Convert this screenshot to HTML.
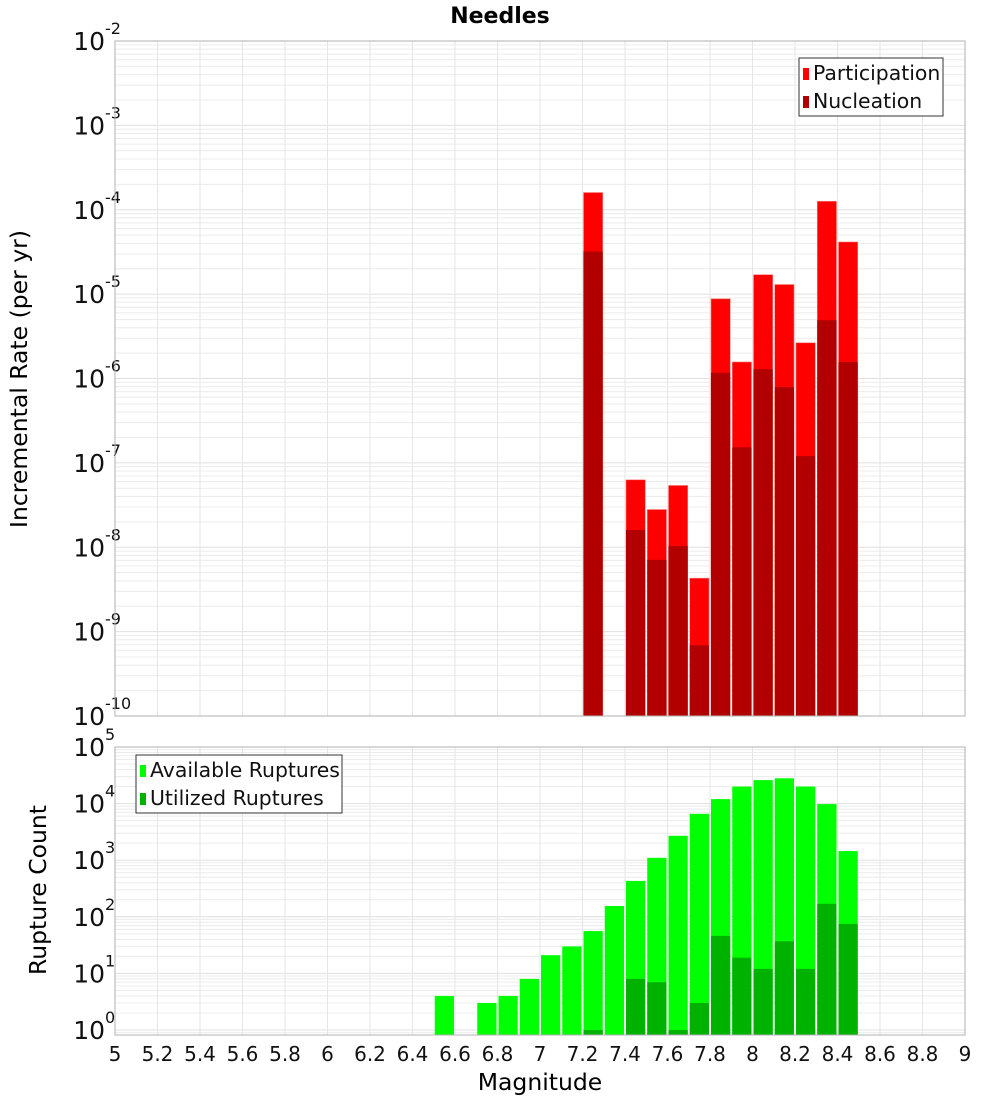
<!DOCTYPE html>
<html><head><meta charset="utf-8"><style>
body{margin:0;background:#fff;}
svg{display:block;font-family:"DejaVu Sans","Liberation Sans",sans-serif;}
</style></head><body>
<svg id="chart" width="1000" height="1100" viewBox="0 0 1000 1100" xmlns="http://www.w3.org/2000/svg">
<text x="500" y="23" text-anchor="middle" font-size="22" font-weight="bold">Needles</text>
<g id="topPanel"></g><g id="botPanel"></g>
<text transform="translate(27,379) rotate(-90)" text-anchor="middle" font-size="23.5">Incremental Rate (per yr)</text>
<text transform="translate(46,890) rotate(-90)" text-anchor="middle" font-size="23.5">Rupture Count</text>
<text x="540" y="1090" text-anchor="middle" font-size="23.5">Magnitude</text>
</svg>
<script>
const mags = [7.2,7.4,7.5,7.6,7.7,7.8,7.9,8.0,8.1,8.2,8.3,8.4];
const participation = [1.6e-4,6.3e-8,2.8e-8,5.4e-8,4.3e-9,8.8e-6,1.57e-6,1.7e-5,1.3e-5,2.65e-6,1.26e-4,4.15e-5];
const nucleation = [3.2e-5,1.6e-8,7.1e-9,1.03e-8,6.9e-10,1.17e-6,1.53e-7,1.29e-6,7.9e-7,1.2e-7,4.9e-6,1.57e-6];
const countMags = [6.5,6.7,6.8,6.9,7.0,7.1,7.2,7.3,7.4,7.5,7.6,7.7,7.8,7.9,8.0,8.1,8.2,8.3,8.4];
const available = [4,3,4,8,21,30,56,155,430,1100,2700,6600,12000,20000,26000,28000,20000,9800,1450];
const utilized = [0,0,0,0,0,0,1,0,8,7,1,3,46,19,12,37,12,170,75];
const xTicks = ["5","5.2","5.4","5.6","5.8","6","6.2","6.4","6.6","6.8","7","7.2","7.4","7.6","7.8","8","8.2","8.4","8.6","8.8","9"];
const topExps = [-10,-9,-8,-7,-6,-5,-4,-3,-2];
const botExps = [0,1,2,3,4,5];

const NS="http://www.w3.org/2000/svg";
const X0=115,X1=965;
const xs=m=>X0+(m-5)/4*(X1-X0);
const yTop=v=>716-(Math.log10(v)+10)*84.375;
const yBot=v=>1030-Math.log10(v)*56.6;
function mk(p,t,a){const e=document.createElementNS(NS,t);for(const k in a)e.setAttribute(k,a[k]);p.appendChild(e);return e;}

function panel(g,t0,b0,ys,exps,lo,hi,name){
  mk(g,'rect',{x:X0,y:t0,width:X1-X0,height:b0-t0,fill:'#fff'});
  for(let d=lo;d<hi;d++)for(let k=1;k<10;k++){const yy=ys(k*Math.pow(10,d));if(yy<t0||yy>b0)continue;
    const l=mk(g,'line',{x1:X0,x2:X1,y1:yy,y2:yy,stroke:k==1?'#e0e0e0':'#ececec','stroke-width':1});
    
    }
  xTicks.forEach(t=>{const xx=xs(+t);const l=mk(g,'line',{x1:xx,x2:xx,y1:t0,y2:b0,stroke:'#e6e6e6'});
    
    });
  exps.forEach(e=>{const yy=ys(Math.pow(10,e));const t=mk(g,'text',{x:105,y:yy+9,'text-anchor':'end','font-size':25,fill:'#111'});
    
    
    t.textContent='10';
    const s=mk(g,'text',{x:105,y:yy-7,'font-size':16,fill:'#111'});
    
    
    s.textContent=String(e);});
}
const gTop=document.getElementById('topPanel'),gBot=document.getElementById('botPanel');
panel(gTop,41,716,yTop,topExps,-10,-2,'top');
panel(gBot,747,1035,yBot,botExps,-1,5,'bottom');
const bw=xs(5.1)-xs(5)-2;
mags.forEach((m,i)=>{
  const p=mk(gTop,'rect',{x:xs(m)+1,y:yTop(participation[i]),width:bw,height:716-yTop(participation[i]),fill:'#ff0000',stroke:'#ff8080','stroke-width':0.6});
  
  
  const n=mk(gTop,'rect',{x:xs(m)+1,y:yTop(nucleation[i]),width:bw,height:716-yTop(nucleation[i]),fill:'#b20000'});
  
  
});
countMags.forEach((m,i)=>{
  const a=mk(gBot,'rect',{x:xs(m)+1,y:yBot(available[i]),width:bw,height:1035-yBot(available[i]),fill:'#00ff00'});
  
  
  if(utilized[i]>0){const u=mk(gBot,'rect',{x:xs(m)+1,y:yBot(utilized[i]),width:bw,height:1035-yBot(utilized[i]),fill:'#00b200'});
  
  }
});
mk(gTop,'rect',{x:X0,y:41,width:X1-X0,height:675,fill:'none',stroke:'#b0b0b0'});
mk(gBot,'rect',{x:X0,y:747,width:X1-X0,height:288,fill:'none',stroke:'#b0b0b0'});
xTicks.forEach(t=>{const e=mk(gBot,'text',{x:xs(+t),y:1061,'text-anchor':'middle','font-size':20,fill:'#111'});
  
  
  e.textContent=t;});
function legend(g,lx,ly,w,items){
  const b=mk(g,'rect',{x:lx,y:ly,width:w,height:58,fill:'#fff',stroke:'#333'});
  
  
  items.forEach((it,i)=>{const yy=ly+15+i*28;
    const s=mk(g,'rect',{x:lx+4,y:yy-5,width:6,height:12,fill:it[1]});
    
    
    const t=mk(g,'text',{x:lx+14,y:yy+7,'font-size':20.4,fill:'#111'});
    
    
    t.textContent=it[0];});
}
legend(gTop,799,58,144,[['Participation','#ff0000'],['Nucleation','#b20000']]);
legend(gBot,136,755,206,[['Available Ruptures','#00ff00'],['Utilized Ruptures','#00b200']]);
</script>
</body></html>
